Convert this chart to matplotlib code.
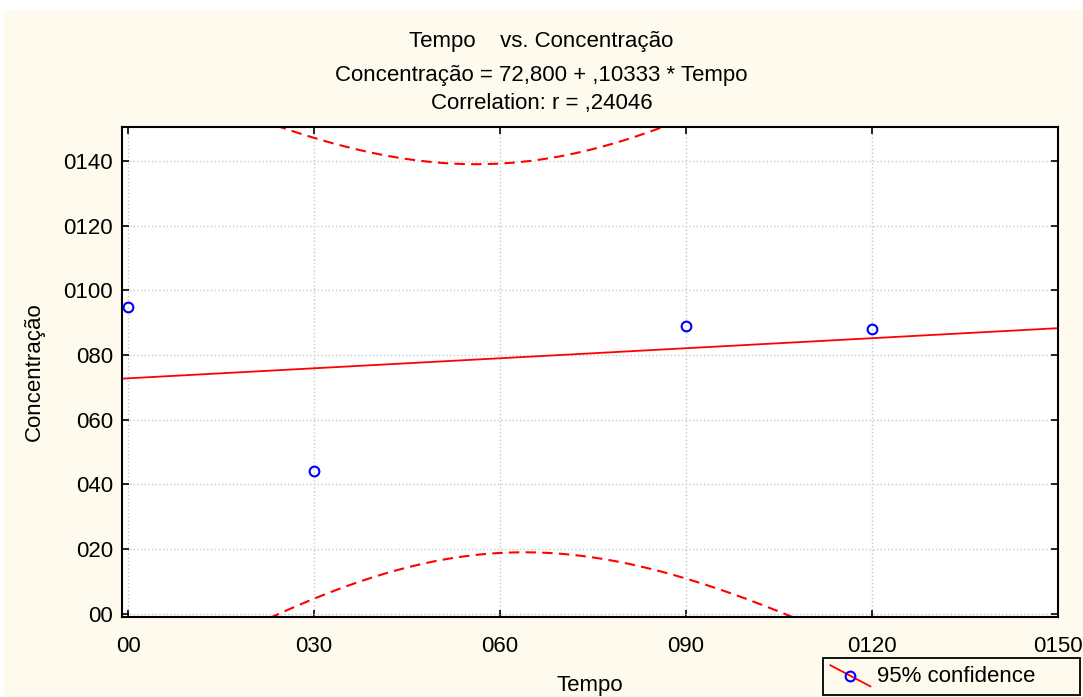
import matplotlib
matplotlib.use("Agg")
import matplotlib.pyplot as plt
from matplotlib.lines import Line2D
from matplotlib.legend_handler import HandlerBase
from matplotlib.patches import Rectangle
import numpy as np

plt.rcParams['font.family'] = ['Liberation Sans', 'DejaVu Sans']

# dados
tempo = np.array([0, 30, 90, 120])
concentracao = np.array([95, 44, 89, 88])
xticks = [0, 30, 60, 90, 120, 150]
xticklabels = ['00', '030', '060', '090', '0120', '0150']
yticks = [0, 20, 40, 60, 80, 100, 120, 140]
yticklabels = ['00', '020', '040', '060', '080', '0100', '0120', '0140']
t_crit = 4.3027  # t(0.975, gl=2)

# regressão e banda de 95%
n = len(tempo)
xm = tempo.mean()
ym = concentracao.mean()
sxx = np.sum((tempo - xm) ** 2)
b = np.sum((tempo - xm) * (concentracao - ym)) / sxx
a = ym - b * xm
s = np.sqrt(np.sum((concentracao - (a + b * tempo)) ** 2) / (n - 2))

xx = np.linspace(-1, 150, 400)
yy = a + b * xx
hw = t_crit * s * np.sqrt(1 / n + (xx - xm) ** 2 / sxx)

fs = 16
bg = '#fffaee'
fig = plt.figure(figsize=(10.83, 6.97), dpi=100, facecolor='white')
fig.patches.append(Rectangle((4 / 1083, 0), 1, 687 / 697, transform=fig.transFigure,
                             facecolor=bg, edgecolor='none', zorder=-10))
ax = fig.add_axes([122 / 1083, 1 - 617 / 697, (1058 - 122) / 1083, (617 - 127) / 697])
ax.set_facecolor('white')

ax.plot(xx, yy, color='red', lw=1.3)
ax.plot(xx, yy + hw, color='red', lw=1.5, ls=(0, (5, 3)))
ax.plot(xx, yy - hw, color='red', lw=1.5, ls=(0, (5, 3)))
ax.plot(tempo, concentracao, 'o', mfc='none', mec='blue', mew=1.5, ms=7, clip_on=False, zorder=5)

ax.set_xlim(-1, 150)
ax.set_ylim(-1, 150.5)
ax.set_xticks(xticks)
ax.set_xticklabels(xticklabels)
ax.set_yticks(yticks)
ax.set_yticklabels(yticklabels)
ax.tick_params(direction='in', length=5, width=1.2, top=True, right=True, labelsize=fs)
ax.tick_params(axis='x', pad=14)
ax.tick_params(axis='y', pad=6.5)
ax.grid(True, color='#c8c8c8', ls=':', lw=1)
for sp in ax.spines.values():
    sp.set_linewidth(1.5)

ax.set_xlabel('Tempo', fontsize=fs, labelpad=13)
ax.set_ylabel('Concentração', fontsize=fs, labelpad=13)

fig.text(0.5, 1 - 41 / 697, 'Tempo    vs. Concentração', ha='center', va='center', fontsize=fs)
fig.text(0.5, 1 - 75 / 697, 'Concentração = 72,800 + ,10333 * Tempo', ha='center', va='center', fontsize=fs)
fig.text(0.5, 1 - 103 / 697, 'Correlation: r = ,24046', ha='center', va='center', fontsize=fs)


class DiagHandler(HandlerBase):
    def create_artists(self, legend, orig_handle, xdescent, ydescent, width, height, fontsize, trans):
        ln = Line2D([-xdescent, -xdescent + width], [height + 1, -3], color='red', lw=1.3, transform=trans)
        mk = Line2D([-xdescent + width / 2], [height / 2 - 1], marker='o', mfc='none', mec='blue',
                    mew=1.5, ms=7, ls='none', transform=trans)
        return [ln, mk]


h = Line2D([], [], color='red')
leg = fig.legend([h], ['95% confidence      '], handler_map={Line2D: DiagHandler()},
                 loc='lower right', bbox_to_anchor=(1080 / 1083, 2 / 697), fontsize=fs,
                 frameon=True, fancybox=False, edgecolor='black', facecolor=bg, framealpha=1,
                 handlelength=1.8, borderpad=0.35, handletextpad=0.3, borderaxespad=0)
leg.get_frame().set_linewidth(1.3)

fig.savefig('out.png', dpi=100, facecolor=fig.get_facecolor())
